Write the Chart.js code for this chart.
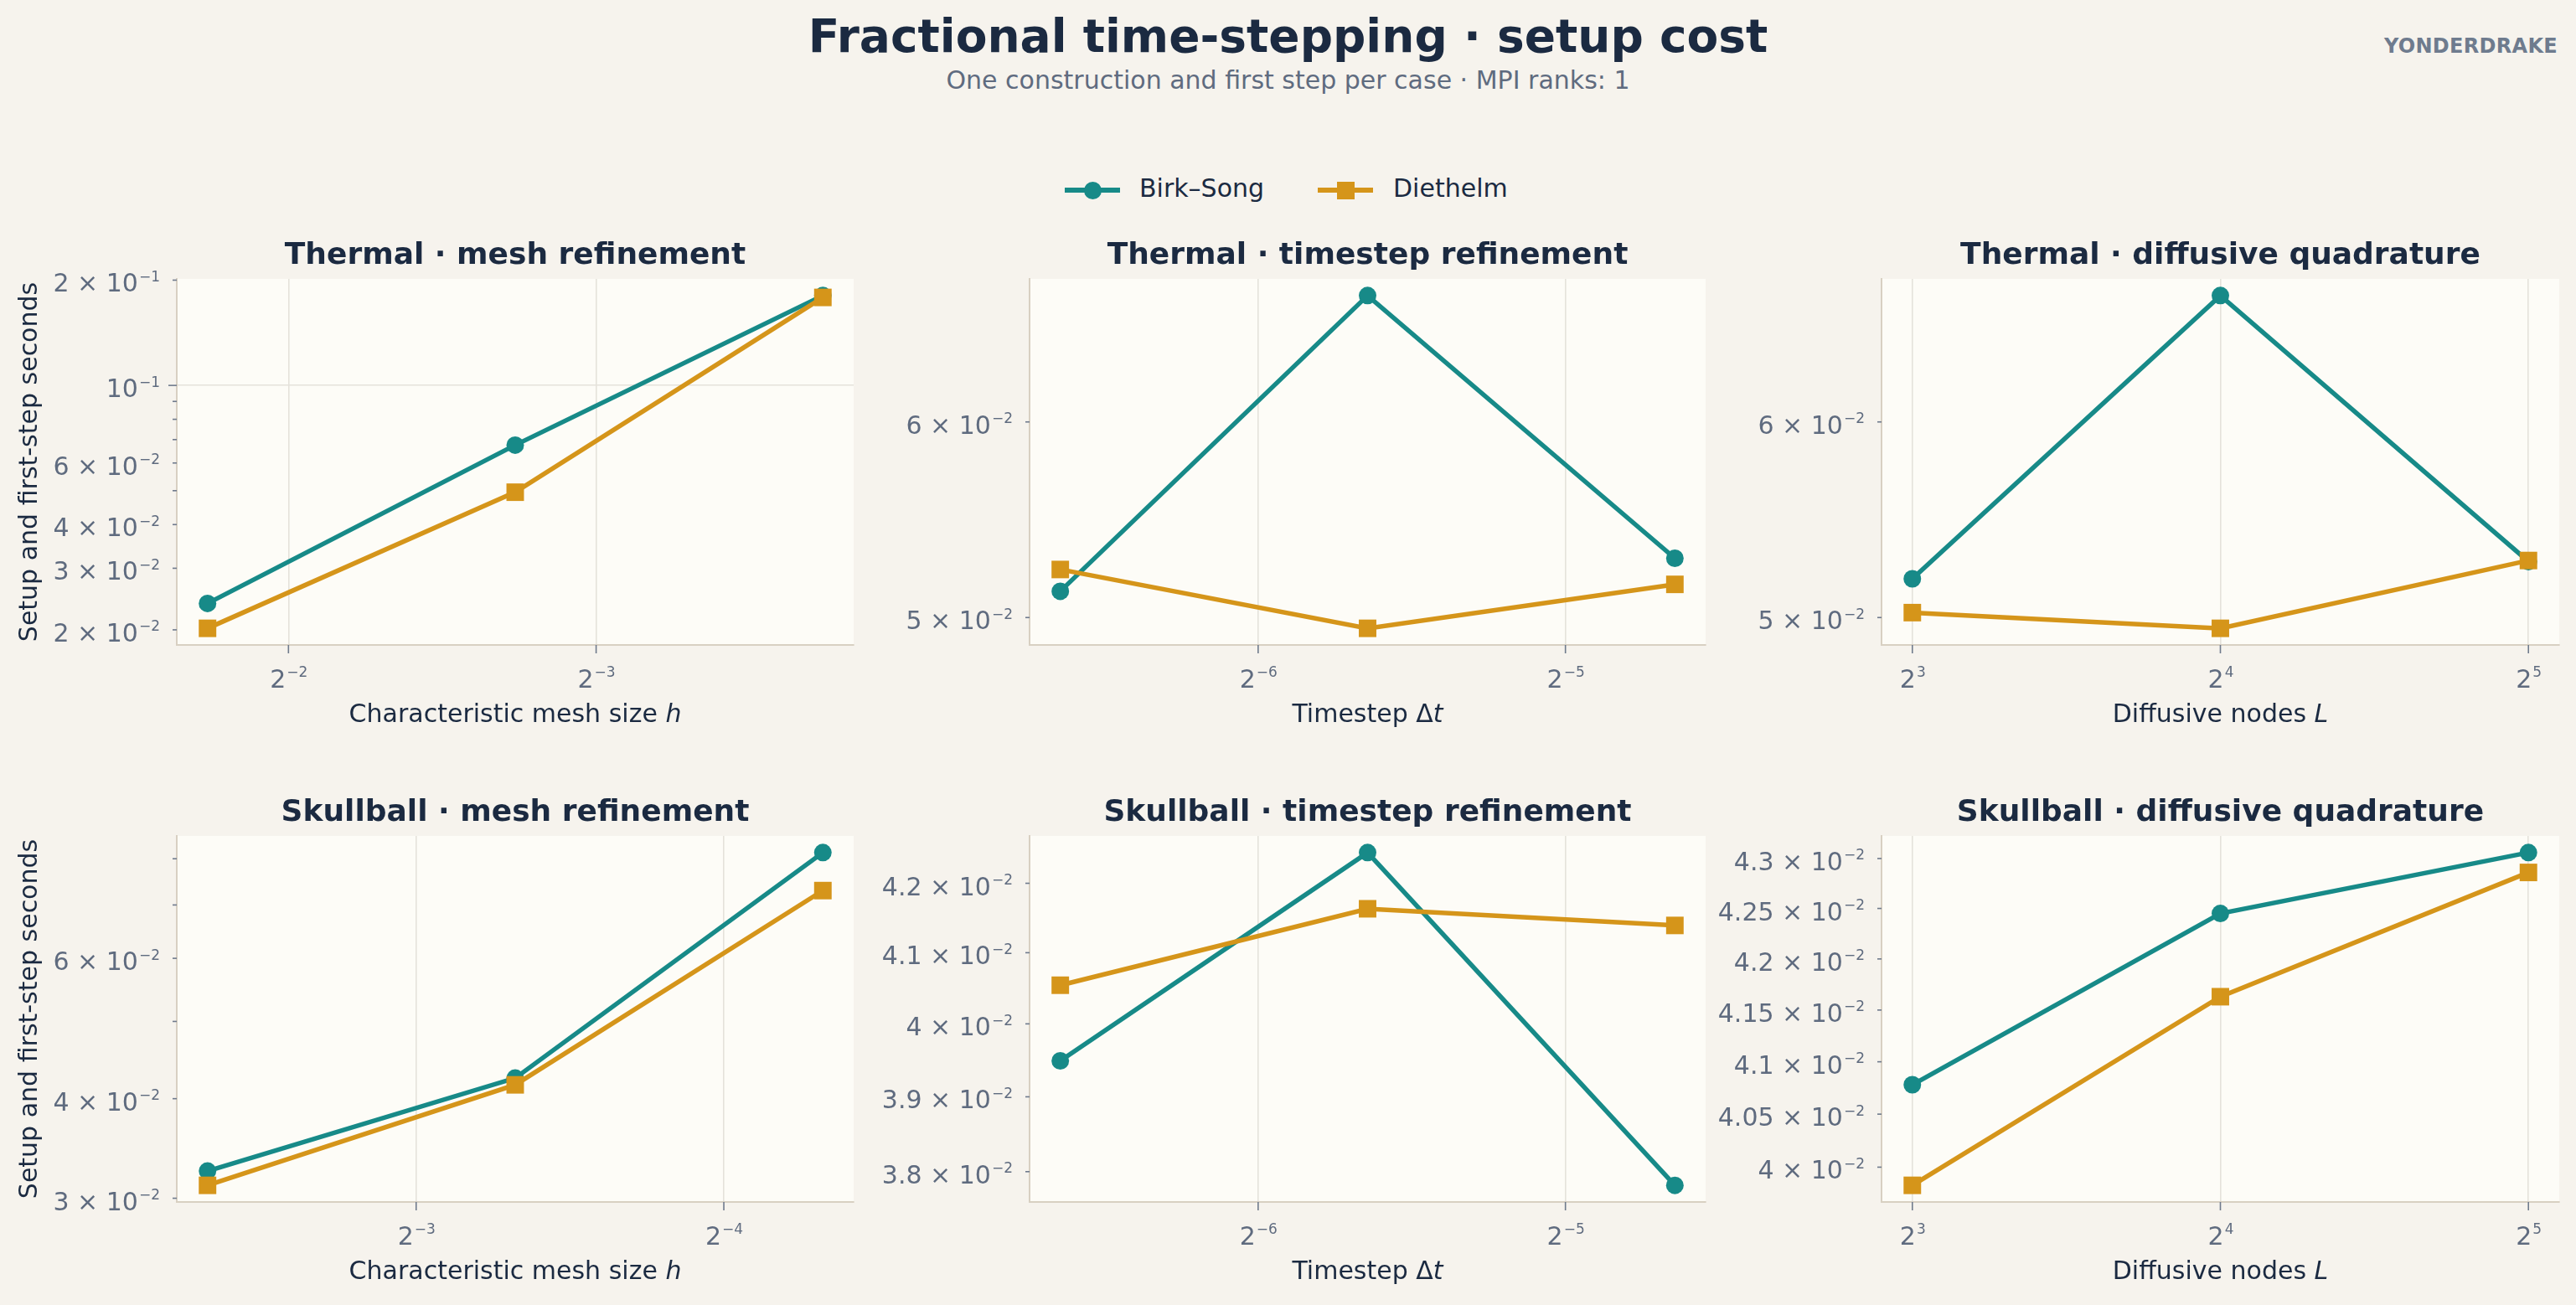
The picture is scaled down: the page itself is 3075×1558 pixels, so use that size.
<!DOCTYPE html>
<html>
<head>
<meta charset="utf-8">
<title>Fractional time-stepping · setup cost</title>
<script src="https://cdn.jsdelivr.net/npm/chart.js@4.4.1/dist/chart.umd.min.js"></script>
<style>
  html, body { margin: 0; padding: 0; background: #f6f3ed; }
  body { width: 3075px; height: 1558px; position: relative; overflow: hidden; font-family: 'DejaVu Sans', sans-serif; }
  .txt { position: absolute; white-space: nowrap; }
  #title { left: 0; width: 3075px; top: 16px; text-align: center; font-size: 55px; line-height: 55px; font-weight: bold; color: #1b2a41; }
  #subtitle { left: 0; width: 3075px; top: 81px; text-align: center; font-size: 30px; line-height: 30px; color: #5f6b7f; }
  #brand { right: 22px; top: 43px; font-size: 24px; line-height: 24px; font-weight: bold; color: #6e7b8e; letter-spacing: 0.3px; }
  .leg-text { top: 210px; font-size: 30px; line-height: 30px; color: #1b2a41; }
  .leg-line { position: absolute; top: 224px; width: 66px; height: 6px; }
  .leg-mark { position: absolute; width: 21px; height: 21px; }
  canvas { position: absolute; }
</style>
</head>
<body>
<div id="title" class="txt">Fractional time-stepping · setup cost</div>
<div id="subtitle" class="txt">One construction and first step per case · MPI ranks: 1</div>
<div id="brand" class="txt">YONDERDRAKE</div>
<div id="legend"></div>

<script>
// ---- data ----
const seriesNames = ['Birk–Song', 'Diethelm'];
const panelTitles = [
  'Thermal · mesh refinement', 'Thermal · timestep refinement', 'Thermal · diffusive quadrature',
  'Skullball · mesh refinement', 'Skullball · timestep refinement', 'Skullball · diffusive quadrature'
];
const yAxisTitle = 'Setup and first-step seconds';

const thermalMeshH = [0.3, 0.15, 0.075];
const skullMeshH = [0.2, 0.1, 0.05];
const timesteps = [0.01, 0.02, 0.04];
const diffusiveNodes = [8, 16, 32];

const thermalMeshBirk = [0.0238, 0.0675, 0.1807];
const thermalMeshDiet = [0.0202, 0.0495, 0.1785];
const thermalStepBirk = [0.05124, 0.0675, 0.05284];
const thermalStepDiet = [0.05229, 0.0495, 0.05157];
const thermalNodesBirk = [0.05184, 0.0675, 0.05268];
const thermalNodesDiet = [0.05023, 0.0495, 0.05273];
const skullMeshBirk = [0.03245, 0.04245, 0.08144];
const skullMeshDiet = [0.03114, 0.04163, 0.07297];
const skullStepBirk = [0.03949, 0.04245, 0.03782];
const skullStepDiet = [0.04054, 0.04163, 0.04139];
const skullNodesBirk = [0.04078, 0.04245, 0.04306];
const skullNodesDiet = [0.03983, 0.04163, 0.04286];

// tick values and labels ("^" starts the superscript)
const thermalMeshXTicks = [0.25, 0.125];
const thermalMeshXLabels = ['2^−2', '2^−3'];
const skullMeshXTicks = [0.125, 0.0625];
const skullMeshXLabels = ['2^−3', '2^−4'];
const stepXTicks = [1 / 64, 1 / 32];
const stepXLabels = ['2^−6', '2^−5'];
const nodesXTicks = [8, 16, 32];
const nodesXLabels = ['2^3', '2^4', '2^5'];

const thermalMeshYTicks = [0.02, 0.03, 0.04, 0.05, 0.06, 0.07, 0.08, 0.09, 0.1, 0.2];
const thermalMeshYLabels = ['2 × 10^−2', '3 × 10^−2', '4 × 10^−2', '', '6 × 10^−2', '', '', '', '10^−1', '2 × 10^−1'];
const thermalFlatYTicks = [0.05, 0.06];
const thermalFlatYLabels = ['5 × 10^−2', '6 × 10^−2'];
const skullMeshYTicks = [0.03, 0.04, 0.05, 0.06, 0.07, 0.08];
const skullMeshYLabels = ['3 × 10^−2', '4 × 10^−2', '', '6 × 10^−2', '', ''];
const skullStepYTicks = [0.038, 0.039, 0.04, 0.041, 0.042];
const skullStepYLabels = ['3.8 × 10^−2', '3.9 × 10^−2', '4 × 10^−2', '4.1 × 10^−2', '4.2 × 10^−2'];
const skullNodesYTicks = [0.04, 0.0405, 0.041, 0.0415, 0.042, 0.0425, 0.043];
const skullNodesYLabels = ['4 × 10^−2', '4.05 × 10^−2', '4.1 × 10^−2', '4.15 × 10^−2', '4.2 × 10^−2', '4.25 × 10^−2', '4.3 × 10^−2'];

const meshXTitle = [['Characteristic mesh size ', false], ['h', true]];
const stepXTitle = [['Timestep Δ', false], ['t', true]];
const nodesXTitle = [['Diffusive nodes ', false], ['L', true]];

// ---- styling ----
const FONT = "'DejaVu Sans', sans-serif";
const TEAL = '#178a88';
const GOLD = '#d5951a';
const DARK = '#1b2a41';
const TICK = '#5f6b7f';
const TICKMARK = '#6f7a8c';
const GRID = '#e5e2db';
const SPINE = '#d8d0c2';
const PLOT_BG = '#fdfcf7';
const TICK_SIZE = 30, SUP_SIZE = 17, SUP_RISE = 12.5;

const plotLefts = [211, 1229, 2246];
const plotWidths = [808, 807, 809];
const plotTops = [333, 998];
const plotHeight = 437;
const TOP_SPACE = 70, Y_SPACE = 211, X_SPACE = 110, RIGHT_SPACE = 16;

const panels = [
  { x: thermalMeshH, birk: thermalMeshBirk, diet: thermalMeshDiet, reverse: true,
    xTicks: thermalMeshXTicks, xLabels: thermalMeshXLabels, yTicks: thermalMeshYTicks, yLabels: thermalMeshYLabels, xTitle: meshXTitle },
  { x: timesteps, birk: thermalStepBirk, diet: thermalStepDiet, reverse: false,
    xTicks: stepXTicks, xLabels: stepXLabels, yTicks: thermalFlatYTicks, yLabels: thermalFlatYLabels, xTitle: stepXTitle },
  { x: diffusiveNodes, birk: thermalNodesBirk, diet: thermalNodesDiet, reverse: false,
    xTicks: nodesXTicks, xLabels: nodesXLabels, yTicks: thermalFlatYTicks, yLabels: thermalFlatYLabels, xTitle: nodesXTitle },
  { x: skullMeshH, birk: skullMeshBirk, diet: skullMeshDiet, reverse: true,
    xTicks: skullMeshXTicks, xLabels: skullMeshXLabels, yTicks: skullMeshYTicks, yLabels: skullMeshYLabels, xTitle: meshXTitle },
  { x: timesteps, birk: skullStepBirk, diet: skullStepDiet, reverse: false,
    xTicks: stepXTicks, xLabels: stepXLabels, yTicks: skullStepYTicks, yLabels: skullStepYLabels, xTitle: stepXTitle },
  { x: diffusiveNodes, birk: skullNodesBirk, diet: skullNodesDiet, reverse: false,
    xTicks: nodesXTicks, xLabels: nodesXLabels, yTicks: skullNodesYTicks, yLabels: skullNodesYLabels, xTitle: nodesXTitle }
];

// matplotlib-like 5% margins in log space
function logLimits(values) {
  const lo = Math.log10(Math.min(...values));
  const hi = Math.log10(Math.max(...values));
  const pad = (hi - lo) * 0.05;
  return [Math.pow(10, lo - pad), Math.pow(10, hi + pad)];
}

function isDecade(v) {
  const l = Math.log10(v);
  return Math.abs(l - Math.round(l)) < 1e-9;
}

const plotBg = {
  id: 'plotBg',
  beforeDraw(chart) {
    const { ctx, chartArea: a } = chart;
    ctx.save();
    ctx.fillStyle = PLOT_BG;
    ctx.fillRect(a.left, a.top, a.right - a.left, a.bottom - a.top);
    ctx.restore();
  }
};

// tick marks + mathtext-like labels (base with raised exponent)
function drawMathLabel(ctx, label, x, baseline, align) {
  const parts = label.split('^');
  ctx.font = TICK_SIZE + 'px ' + FONT;
  const bw = ctx.measureText(parts[0]).width;
  ctx.font = SUP_SIZE + 'px ' + FONT;
  const sw = parts[1] ? ctx.measureText(parts[1]).width : 0;
  const x0 = align === 'right' ? x - bw - sw : x - (bw + sw) / 2;
  ctx.font = TICK_SIZE + 'px ' + FONT;
  ctx.fillText(parts[0], x0, baseline);
  if (parts[1]) {
    ctx.font = SUP_SIZE + 'px ' + FONT;
    ctx.fillText(parts[1], x0 + bw + 1, baseline - SUP_RISE);
  }
}

const mathTicks = {
  id: 'mathTicks',
  afterDraw(chart, args, opts) {
    const { ctx, chartArea: a } = chart;
    const xs = chart.scales.x, ys = chart.scales.y;
    ctx.save();
    ctx.textAlign = 'left';
    ctx.textBaseline = 'alphabetic';
    ctx.strokeStyle = TICKMARK;
    ctx.lineWidth = 1.6;
    ctx.fillStyle = TICK;
    opts.xTicks.forEach((v, i) => {
      const px = xs.getPixelForValue(v);
      ctx.beginPath();
      ctx.moveTo(px, a.bottom);
      ctx.lineTo(px, a.bottom + 10);
      ctx.stroke();
      if (opts.xLabels[i]) drawMathLabel(ctx, opts.xLabels[i], px, a.bottom + 50.5, 'center');
    });
    opts.yTicks.forEach((v, i) => {
      const py = ys.getPixelForValue(v);
      const len = isDecade(v) ? 10 : 5;
      ctx.beginPath();
      ctx.moveTo(a.left, py);
      ctx.lineTo(a.left - len, py);
      ctx.stroke();
      if (opts.yLabels[i]) drawMathLabel(ctx, opts.yLabels[i], a.left - 21, py + 14, 'right');
    });
    ctx.restore();
  }
};

// x-axis title with an italic symbol
const xTitle = {
  id: 'xTitle',
  afterDraw(chart, args, opts) {
    const { ctx, chartArea: a } = chart;
    const parts = opts.parts || [];
    ctx.save();
    ctx.fillStyle = DARK;
    ctx.textBaseline = 'middle';
    ctx.textAlign = 'left';
    const fonts = parts.map(p => (p[1] ? 'italic ' : '') + '30px ' + FONT);
    const widths = parts.map((p, i) => { ctx.font = fonts[i]; return ctx.measureText(p[0]).width; });
    let x = (a.left + a.right) / 2 - widths.reduce((s, w) => s + w, 0) / 2;
    parts.forEach((p, i) => {
      ctx.font = fonts[i];
      ctx.fillText(p[0], x, a.bottom + 84);
      x += widths[i];
    });
    ctx.restore();
  }
};

function points(xs, ys) {
  return xs.map((x, i) => ({ x: x, y: ys[i] }));
}

panels.forEach((p, idx) => {
  const col = idx % 3, row = Math.floor(idx / 3);
  const canvas = document.createElement('canvas');
  const w = Y_SPACE + plotWidths[col] + RIGHT_SPACE;
  const h = TOP_SPACE + plotHeight + X_SPACE;
  canvas.width = w;
  canvas.height = h;
  canvas.style.width = w + 'px';
  canvas.style.height = h + 'px';
  canvas.style.left = (plotLefts[col] - Y_SPACE) + 'px';
  canvas.style.top = (plotTops[row] - TOP_SPACE) + 'px';
  document.body.appendChild(canvas);

  const [xMin, xMax] = logLimits(p.x);
  const [yMin, yMax] = logLimits(p.birk.concat(p.diet));

  new Chart(canvas, {
    type: 'line',
    data: {
      datasets: [{
        label: seriesNames[1],
        data: points(p.x, p.diet),
        borderColor: GOLD,
        backgroundColor: GOLD,
        borderWidth: 5.5,
        pointStyle: 'rect',
        pointRadius: 14.8,
        pointHoverRadius: 14.8,
        pointBorderWidth: 0,
        tension: 0,
        order: 0
      }, {
        label: seriesNames[0],
        data: points(p.x, p.birk),
        borderColor: TEAL,
        backgroundColor: TEAL,
        borderWidth: 5.5,
        pointStyle: 'circle',
        pointRadius: 10.5,
        pointHoverRadius: 10.5,
        pointBorderWidth: 0,
        tension: 0,
        order: 1
      }]
    },
    options: {
      responsive: false,
      animation: false,
      events: [],
      layout: { padding: { left: 0, top: 0, right: RIGHT_SPACE, bottom: 0 } },
      plugins: {
        legend: { display: false },
        tooltip: { enabled: false },
        title: {
          display: true,
          fullSize: false,
          text: panelTitles[idx],
          color: DARK,
          font: { family: FONT, size: 36, weight: 'bold', lineHeight: 1.2 },
          padding: { top: 21.4, bottom: 5.4 }
        },
        xTitle: { parts: p.xTitle },
        mathTicks: { xTicks: p.xTicks, xLabels: p.xLabels, yTicks: p.yTicks, yLabels: p.yLabels }
      },
      scales: {
        x: {
          type: 'logarithmic',
          reverse: p.reverse,
          min: xMin,
          max: xMax,
          bounds: 'data',
          afterBuildTicks: s => { s.ticks = p.xTicks.map(v => ({ value: v })); },
          afterFit: s => { s.height = X_SPACE; },
          ticks: { display: false, autoSkip: false },
          grid: { color: GRID, lineWidth: 1.6, drawTicks: false },
          border: { display: true, color: SPINE, width: 2 }
        },
        y: {
          type: 'logarithmic',
          min: yMin,
          max: yMax,
          bounds: 'data',
          afterBuildTicks: s => { s.ticks = p.yTicks.map(v => ({ value: v })); },
          afterFit: s => { s.width = Y_SPACE; },
          ticks: { display: false, autoSkip: false },
          grid: {
            color: c => (c.tick && isDecade(c.tick.value)) ? GRID : 'rgba(0,0,0,0)',
            lineWidth: 1.6,
            drawTicks: false
          },
          border: { display: true, color: SPINE, width: 2 },
          title: {
            display: col === 0,
            text: yAxisTitle,
            color: DARK,
            font: { family: FONT, size: 30, lineHeight: 1.2 },
            padding: { top: 18.5, bottom: 0 }
          }
        }
      }
    },
    plugins: [plotBg, mathTicks, xTitle]
  });
});

// legend (line + marker, as in the reference)
const legend = document.getElementById('legend');
const legendItems = [
  { name: seriesNames[0], color: TEAL, round: true, lineLeft: 1271, textLeft: 1360 },
  { name: seriesNames[1], color: GOLD, round: false, lineLeft: 1573, textLeft: 1663 }
];
legendItems.forEach(it => {
  const line = document.createElement('div');
  line.className = 'leg-line';
  line.style.left = it.lineLeft + 'px';
  line.style.background = it.color;
  legend.appendChild(line);
  const mark = document.createElement('div');
  mark.className = 'leg-mark';
  mark.style.left = (it.lineLeft + 33 - 10.5) + 'px';
  mark.style.top = (227 - 10.5) + 'px';
  mark.style.background = it.color;
  if (it.round) mark.style.borderRadius = '50%';
  legend.appendChild(mark);
  const t = document.createElement('div');
  t.className = 'txt leg-text';
  t.style.left = it.textLeft + 'px';
  t.textContent = it.name;
  legend.appendChild(t);
});
</script>
</body>
</html>
